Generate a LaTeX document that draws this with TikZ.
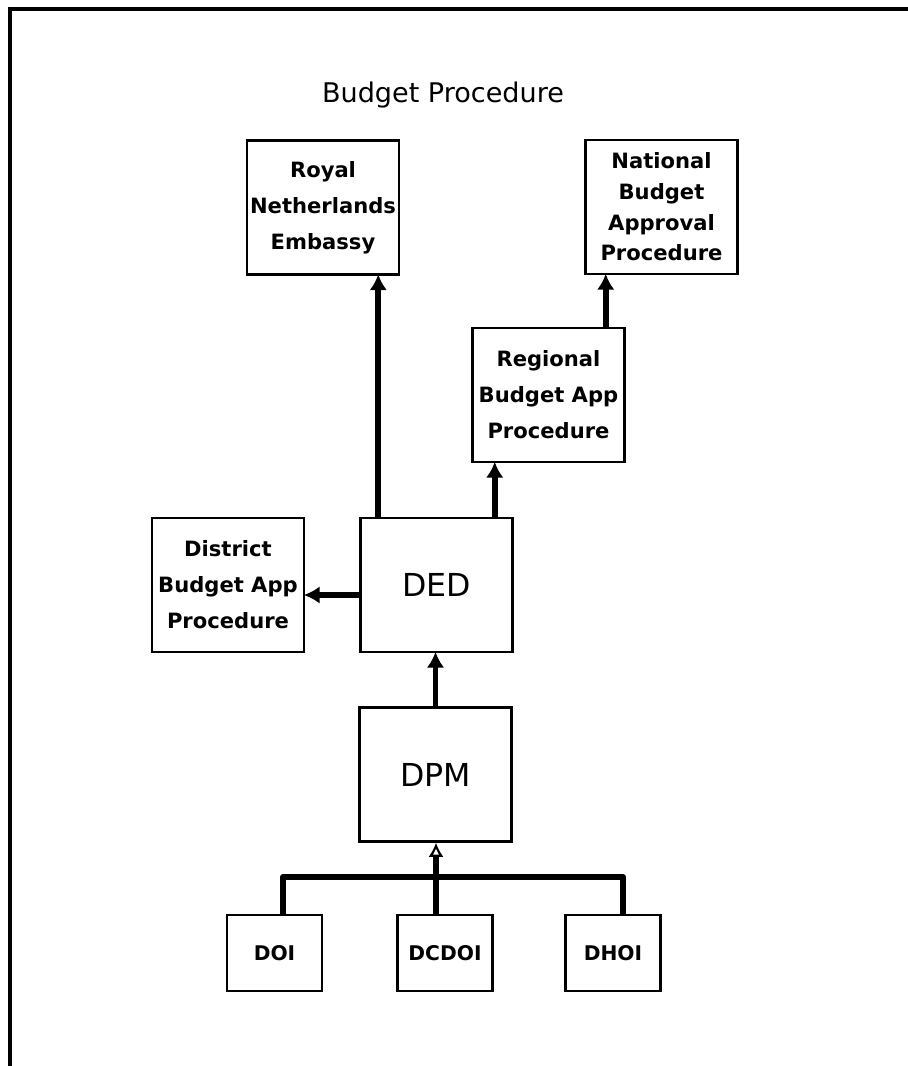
\documentclass[tikz,border=0pt]{standalone}
\usepackage{fontspec}
\setmainfont{DejaVu Sans}
\usepackage{tikz}
\usetikzlibrary{arrows.meta,positioning,calc}

\begin{document}
\begin{tikzpicture}[
    box/.style={rectangle, draw, line width=1.4pt, minimum width=3.04cm, minimum height=2.68cm, align=center, inner sep=0pt, font=\bfseries\fontsize{12}{20.5}\selectfont},
    bigbox/.style={box, font=\fontsize{18}{22}\selectfont},
    smallbox/.style={box, minimum width=1.9cm, minimum height=1.52cm, font=\bfseries\fontsize{11.5}{14}\selectfont},
    arrow/.style={-{Latex[length=9pt,width=10pt]}, line width=3.4pt, shorten >=-0.8pt},
    busline/.style={line width=3.4pt, line join=round},
    openarrow/.style={-{Latex[fill=white,length=8pt,width=8.5pt,line width=1.2pt]}, line width=3.4pt}
]
\useasboundingbox (0,0) rectangle (18.16,-21.32);

% Frame
\draw[line width=2.5pt] (0.2,-21.32) -- (0.2,-0.18) -- (18.16,-0.18);

% Title
\node[font=\fontsize{15.4}{18}\selectfont] (title) at (8.86,-1.9) {Budget Procedure};

% Upper level
\node[box] (rne) at (6.46,-4.15) {Royal\\Netherlands\\Embassy};
\node[box, font=\bfseries\fontsize{12}{17.5}\selectfont] (nat) at (13.23,-4.14) {National\\Budget\\Approval\\Procedure};
\node[box] (reg) at (10.97,-7.9) {Regional\\Budget App\\Procedure};

% District level
\node[bigbox] (ded) at (8.73,-11.7) {DED};
\node[box] (dist) at (4.56,-11.7) {District\\Budget App\\Procedure};
\node[bigbox] (dpm) at (8.71,-15.49) {DPM};

% Offices
\node[smallbox] (doi) at (5.49,-19.06) {DOI};
\node[smallbox] (dcdoi) at (8.9,-19.06) {DCDOI};
\node[smallbox] (dhoi) at (12.26,-19.06) {DHOI};

% Arrows
\coordinate (dedl) at ([xshift=0.38cm]ded.north west);
\coordinate (dedr) at ([xshift=-0.38cm]ded.north east);
\coordinate (regr) at ([xshift=-0.4cm]reg.north east);
\coordinate (dedw) at ([yshift=-0.2cm]ded.west);
\draw[arrow] (dedl) -- (dedl |- rne.south);
\draw[arrow] (dedr) -- (dedr |- reg.south);
\draw[arrow] (regr) -- (regr |- nat.south);
\draw[arrow] (dedw) -- (dedw -| dist.east);
\draw[arrow] (dpm.north) -- (dpm.north |- ded.south);

% Bus
\coordinate (bus) at (8.72,-17.54);
\coordinate (doitop) at ([xshift=0.17cm]doi.north);
\coordinate (dhoitop) at ([xshift=0.2cm]dhoi.north);
\draw[busline] (doitop) |- (bus) -| (dhoitop);
\draw[openarrow] (dcdoi.north -| bus) -- (dpm.south -| bus);

\end{tikzpicture}
\end{document}
